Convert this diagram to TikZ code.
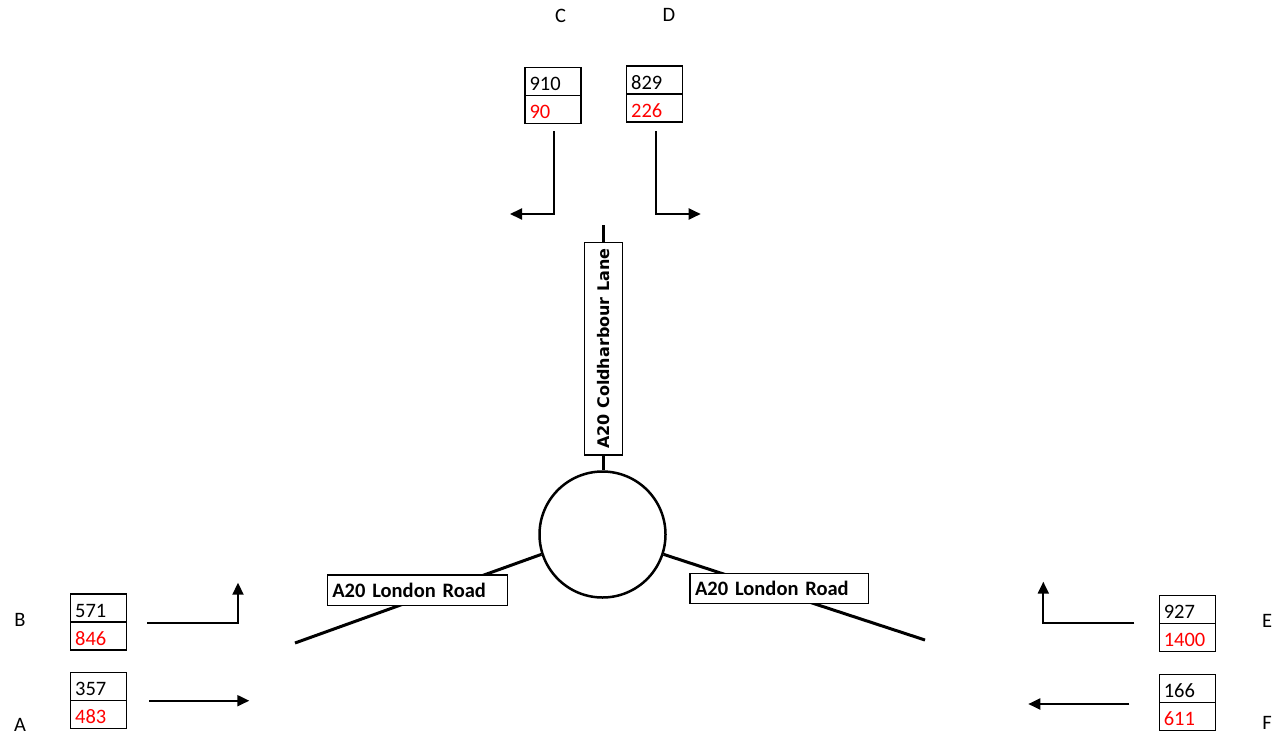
\documentclass[tikz,border=0pt]{standalone}
\usepackage{fontspec}
\setmainfont{Carlito}
\newfontfamily\vfont{DejaVu Sans}
\usetikzlibrary{arrows.meta}
\definecolor{numred}{RGB}{255,0,0}
\tikzset{
  cell/.style={draw, line width=1.5pt, anchor=north west, outer sep=0pt, minimum height=28pt,
    inner xsep=4.5pt, inner ysep=0pt, text width=#1, align=left,
    text height=18.5pt, text depth=0pt, font=\fontsize{20.5}{24}\selectfont},
  cell/.default=47pt,
  redtxt/.style={text=numred},
  letter/.style={font=\fontsize{20.5}{24}\selectfont, inner sep=0pt},
  arr/.style={line width=2pt, -{Triangle[length=12pt,width=11pt]}},
  road/.style={line width=3pt},
  roadlbl/.style={draw, fill=white, line width=1.5pt, font=\fontsize{20.5}{24}\selectfont\bfseries,
    inner xsep=5pt, inner ysep=0pt, text depth=0pt, text height=15pt}
}
\begin{document}
\begin{tikzpicture}[x=1pt,y=-1pt]
\useasboundingbox (0,0) rectangle (1279,736);

% letters
\node[letter] (lC) at (560.7,15.7) {C};
\node[letter] (lD) at (669,15) {D};
\node[letter] (lB) at (20,620) {B};
\node[letter] (lA) at (20,725) {A};
\node[letter] (lE) at (1267,621) {E};
\node[letter] (lF) at (1267,723) {F};

% count boxes
\node[cell] (c1) at (525,67.5) {910};
\node[cell, redtxt] (c2) at (c1.south west) {90};
\node[cell] (d1) at (626.7,66) {829};
\node[cell, redtxt] (d2) at (d1.south west) {226};
\node[cell] (b1) at (70.7,594) {571};
\node[cell, redtxt] (b2) at (b1.south west) {846};
\node[cell] (a1) at (70.7,672.7) {357};
\node[cell, redtxt] (a2) at (a1.south west) {483};
\node[cell] (e1) at (1159.3,595.7) {927};
\node[cell, redtxt] (e2) at (e1.south west) {1400};
\node[cell] (f1) at (1159.3,674.3) {166};
\node[cell, redtxt] (f2) at (f1.south west) {611};

% turning arrows
\coordinate (cS) at (554.3,131);  \coordinate (cT) at (510,214);
\coordinate (dS) at (655.7,131);  \coordinate (dT) at (700.7,214);
\coordinate (bS) at (147.3,623.3); \coordinate (bT) at (238,582.7);
\coordinate (aS) at (149.3,700.7); \coordinate (aT) at (249.3,700.7);
\coordinate (eS) at (1134.3,623.3); \coordinate (eT) at (1043.3,581.7);
\coordinate (fS) at (1129.3,704); \coordinate (fT) at (1028.3,704);
\draw[arr] (cS) |- (cT);
\draw[arr] (dS) |- (dT);
\draw[arr] (bS) -| (bT);
\draw[arr] (aS) -- (aT);
\draw[arr] (eS) -| (eT);
\draw[arr] (fS) -- (fT);

% roundabout
\node[draw, circle, line width=2.5pt, minimum size=126pt, inner sep=0pt] (rb) at (602.5,534.5) {};
\node[draw, line width=1.5pt, rotate=90, minimum width=212.7pt, minimum height=38pt, inner sep=0pt,
  font=\vfont\fontsize{16}{18}\selectfont\bfseries] (cl) at (603.3,348.7) {A20 Coldharbour Lane};
\coordinate (nTop) at (603.3,225);
\draw[road] (nTop) -- (cl.east);
\draw[road] (cl.west) -- (cl.west |- rb.north);

\coordinate (wEnd) at (295,643);
\coordinate (eEnd) at (925,640);
\draw[road] (wEnd) -- (rb.198);
\draw[road] (eEnd) -- (rb.342);
\node[roadlbl, minimum width=180pt, minimum height=30.7pt, text width=170pt, align=left] (lw) at (417.3,590.3) {A20 London Road};
\node[roadlbl, minimum width=178.3pt, minimum height=30pt, text width=168.3pt, align=left] (le) at (779.2,588.3) {A20 London Road};
\end{tikzpicture}
\end{document}
